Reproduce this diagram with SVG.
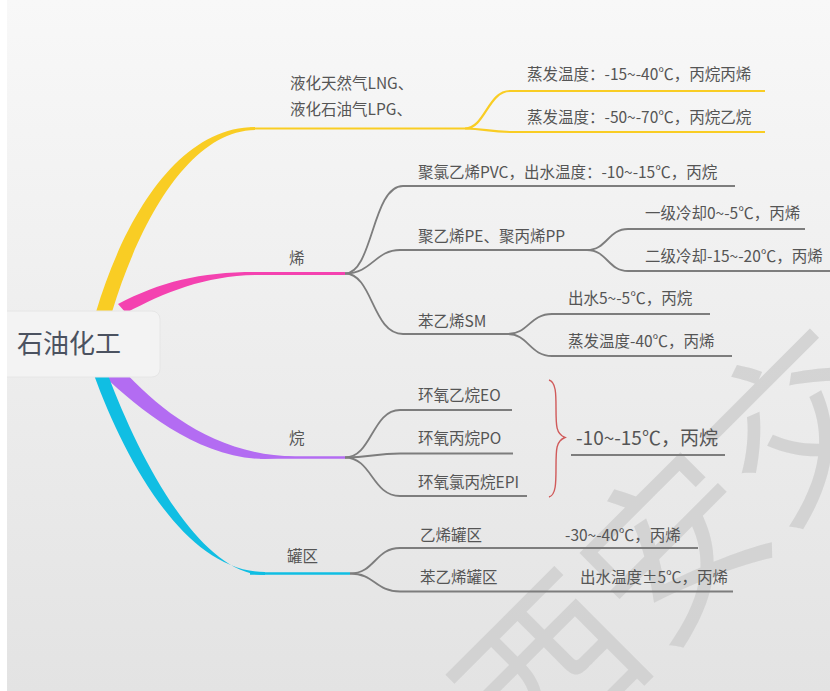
<svg xmlns="http://www.w3.org/2000/svg" width="830" height="691" viewBox="0 0 830 691">
<defs>
<linearGradient id="bg" x1="0" y1="0" x2="0" y2="1">
<stop offset="0" stop-color="#f8f8f8"/>
<stop offset="1" stop-color="#e3e3e3"/>
</linearGradient>
<style>
text{font-family:"Noto Sans CJK SC","Microsoft YaHei",sans-serif;}
.t{font-size:15.5px;fill:#555;}
.big{font-size:19px;fill:#555;}
.root{font-size:26px;fill:#4b5260;}
.g{fill:none;stroke:#7d7d7d;stroke-width:1.8;}
.wm{font-size:175px;fill:#cfcfcf;fill-opacity:0.85;}
</style>
</defs>
<rect width="830" height="691" fill="url(#bg)"/>
<g id="watermark">
<text class="wm" transform="translate(534,778) rotate(-45)">西安交</text>
</g>
<g id="connectors">
<!-- yellow -->
<path d="M96,312 C125,215 180,127 255,127 L255,130 C190,131 140,220 112,312 Z" fill="#f9cd24"/>
<path d="M250,128.5 H465 C485,128.5 488,91 510,91 H765" fill="none" stroke="#f9cd24" stroke-width="2.2"/>
<path d="M465,128.5 C485,128.5 488,132 510,132 H765" fill="none" stroke="#f9cd24" stroke-width="2.2"/>
<!-- pink -->
<path d="M118,304 C160,282 200,272 255,272 L255,275 C205,276 165,292 126,313 Z" fill="#f442b0"/>
<path d="M250,273.5 H345" fill="none" stroke="#f442b0" stroke-width="3"/>
<path class="g" d="M345,273.5 C373,273.5 372,186 403,186 H735"/>
<path class="g" d="M345,273.5 C372,273.5 375,250 400,250 H587"/>
<path class="g" d="M587,250 C607,250 608,229 628,229 H805"/>
<path class="g" d="M587,250 C607,250 608,271 628,271 H830"/>
<path class="g" d="M345,273.5 C373,273.5 372,334 403,334 H508"/>
<path class="g" d="M508,334 C528,334 530,314 552,314 H710"/>
<path class="g" d="M508,334 C528,334 530,356 552,356 H732"/>
<!-- purple -->
<path d="M104,376 C140,410 200,459 265,459 L295,456.5 C215,455 160,410 123,370 Z" fill="#b36cf2"/>
<path d="M260,457.5 H345" fill="none" stroke="#b36cf2" stroke-width="2.6"/>
<path class="g" d="M345,457.5 C372,457.5 372,410 400,410 H512"/>
<path class="g" d="M345,457.5 C370,457.5 375,453.5 400,453.5 H513"/>
<path class="g" d="M345,457.5 C372,457.5 372,496 400,496 H527"/>
<path d="M549,380 C556,382 556,394 556,408 C556,426 556,434 565,437.5 C556,441 556,449 556,467 C556,483 556,495 549,497" fill="none" stroke="#d05a5a" stroke-width="1.4"/>
<path class="g" d="M571,455 H725"/>
<!-- cyan -->
<path d="M94,375 C125,460 185,572 265,572 L265,575 C200,575 140,460 108,375 Z" fill="#10bee3"/>
<path d="M250,573.5 H350" fill="none" stroke="#10bee3" stroke-width="2.6"/>
<path class="g" d="M350,573.5 C375,573.5 375,548 400,548 H698"/>
<path class="g" d="M350,573.5 C375,573.5 375,591.5 400,591.5 H733"/>
</g>
<g id="n-root">
<rect x="-8" y="311" width="168" height="66" rx="8" fill="#f3f3f3" stroke="#e6e6e6" stroke-width="1"/>
<text class="root" x="17" y="353">石油化工</text>
</g>
<rect x="0" y="0" width="7" height="691" fill="#ffffff"/>
<g id="n-lng">
<text class="t" x="290" y="89">液化天然气LNG、</text>
<text class="t" x="290" y="115">液化石油气LPG、</text>
</g>
<g id="n-lng1"><text class="t" x="527" y="80">蒸发温度：-15~-40℃，丙烷丙烯</text></g>
<g id="n-lng2"><text class="t" x="527" y="123">蒸发温度：-50~-70℃，丙烷乙烷</text></g>
<g id="n-xi"><text class="t" x="289" y="264">烯</text></g>
<g id="n-pvc"><text class="t" x="418" y="178">聚氯乙烯PVC，出水温度：-10~-15℃，丙烷</text></g>
<g id="n-pe"><text class="t" x="418" y="242">聚乙烯PE、聚丙烯PP</text></g>
<g id="n-pe1"><text class="t" x="645" y="219">一级冷却0~-5℃，丙烯</text></g>
<g id="n-pe2"><text class="t" x="645" y="262">二级冷却-15~-20℃，丙烯</text></g>
<g id="n-sm"><text class="t" x="418" y="327">苯乙烯SM</text></g>
<g id="n-sm1"><text class="t" x="568" y="304">出水5~-5℃，丙烷</text></g>
<g id="n-sm2"><text class="t" x="568" y="347">蒸发温度-40℃，丙烯</text></g>
<g id="n-wan"><text class="t" x="289" y="444">烷</text></g>
<g id="n-eo"><text class="t" x="418" y="401">环氧乙烷EO</text></g>
<g id="n-po"><text class="t" x="418" y="444">环氧丙烷PO</text></g>
<g id="n-epi"><text class="t" x="418" y="488">环氧氯丙烷EPI</text></g>
<g id="n-wan-t"><text class="big" x="576" y="445">-10~-15℃，丙烷</text></g>
<g id="n-tank"><text class="t" x="287" y="562">罐区</text></g>
<g id="n-tank1">
<text class="t" x="420" y="541">乙烯罐区</text>
<text class="t" x="565" y="541">-30~-40℃，丙烯</text>
</g>
<g id="n-tank2">
<text class="t" x="420" y="583">苯乙烯罐区</text>
<text class="t" x="580" y="583">出水温度±5℃，丙烯</text>
</g>
</svg>
